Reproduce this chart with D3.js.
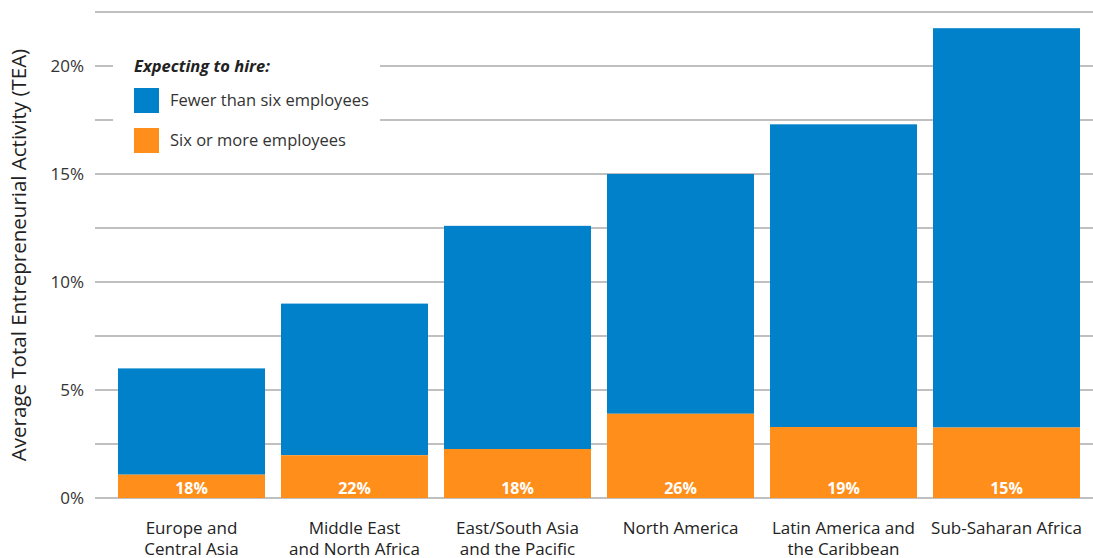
<!DOCTYPE html>
<html>
<head>
<meta charset="utf-8">
<script src="https://cdn.jsdelivr.net/npm/d3@7"></script>
<style>
  html, body { margin: 0; padding: 0; background: #fff; }
  svg { display: block; font-family: "Open Sans", "Noto Sans", sans-serif; }
</style>
</head>
<body>
<svg id="chart" width="1093" height="558"></svg>
<script>
// Regions and their average TEA (%)
const regions = [
  ["Europe and", "Central Asia"],
  ["Middle East", "and North Africa"],
  ["East/South Asia", "and the Pacific"],
  ["North America"],
  ["Latin America and", "the Caribbean"],
  ["Sub-Saharan Africa"]
];
const totalTEA = [6.0, 9.0, 12.6, 15.0, 17.3, 21.75];
// Share of entrepreneurs expecting to hire six or more employees (%)
const shareSixPlus = [18, 22, 18, 26, 19, 15];
const yTicks = [0, 5, 10, 15, 20];
const gridValues = [0, 2.5, 5, 7.5, 10, 12.5, 15, 17.5, 20, 22.5];
const legendTitle = "Expecting to hire:";
const seriesNames = ["Fewer than six employees", "Six or more employees"];
const colors = ["#0081CA", "#FF8F1A"];

const svg = d3.select("#chart");
const plotLeft = 95, plotRight = 1093, plotTop = 12, plotBottom = 498;

const x = d3.scaleBand()
  .domain(d3.range(regions.length))
  .range([110, 1088])
  .paddingInner(0.0982)
  .paddingOuter(0.0491);

const y = d3.scaleLinear().domain([0, 22.5]).range([plotBottom, plotTop]);

// Gridlines
svg.append("g")
  .selectAll("line")
  .data(gridValues)
  .join("line")
  .attr("x1", plotLeft).attr("x2", plotRight)
  .attr("y1", d => y(d)).attr("y2", d => y(d))
  .attr("stroke", "#ababab").attr("stroke-width", 1.5);

// Y tick labels
const yAxis = d3.axisLeft(y).tickValues(yTicks).tickSize(0).tickPadding(0)
  .tickFormat(d => d + "%");
const ya = svg.append("g").attr("transform", `translate(${plotLeft - 11},0)`).call(yAxis);
ya.select(".domain").remove();
ya.selectAll("text").attr("font-size", 17).attr("fill", "#333")
  .attr("font-family", "'Open Sans', 'Noto Sans', sans-serif");

// Y axis title
svg.append("text")
  .attr("transform", `translate(26, 255) rotate(-90)`)
  .attr("text-anchor", "middle")
  .attr("font-size", 20.5).attr("fill", "#222")
  .text("Average Total Entrepreneurial Activity (TEA)");

// Legend background blanks out the gridlines behind it
svg.append("rect").attr("x", 113).attr("y", 40).attr("width", 267).attr("height", 122).attr("fill", "#fff");

// Stacked bars
const data = regions.map((r, i) => {
  const six = totalTEA[i] * shareSixPlus[i] / 100;
  return { i, six, total: totalTEA[i], share: shareSixPlus[i] };
});

const g = svg.append("g");
g.selectAll("rect.fewer").data(data).join("rect")
  .attr("class", "fewer")
  .attr("x", d => x(d.i)).attr("width", x.bandwidth())
  .attr("y", d => y(d.total)).attr("height", d => y(d.six) - y(d.total))
  .attr("fill", colors[0]);
g.selectAll("rect.six").data(data).join("rect")
  .attr("class", "six")
  .attr("x", d => x(d.i)).attr("width", x.bandwidth())
  .attr("y", d => y(d.six)).attr("height", d => y(0) - y(d.six))
  .attr("fill", colors[1]);
g.selectAll("text.val").data(data).join("text")
  .attr("class", "val")
  .attr("x", d => x(d.i) + x.bandwidth() / 2).attr("y", 494)
  .attr("text-anchor", "middle")
  .attr("font-size", 16).attr("font-weight", "bold").attr("fill", "#fff")
  .text(d => d.share + "%");

// Category labels
const cat = svg.append("g").selectAll("text").data(regions).join("text")
  .attr("x", (d, i) => x(i) + x.bandwidth() / 2)
  .attr("y", 534)
  .attr("text-anchor", "middle")
  .attr("font-size", 17).attr("fill", "#222");
cat.selectAll("tspan").data(d => d).join("tspan")
  .attr("x", function () { return d3.select(this.parentNode).attr("x"); })
  .attr("dy", (d, j) => j === 0 ? 0 : 21)
  .text(d => d);

// Legend
const lg = svg.append("g");
lg.append("text").attr("x", 134).attr("y", 72)
  .attr("font-size", 16.5).attr("font-weight", "bold").attr("font-style", "italic").attr("fill", "#222")
  .text(legendTitle);
seriesNames.forEach((name, k) => {
  lg.append("rect").attr("x", 134).attr("y", 88 + k * 40).attr("width", 25).attr("height", 25).attr("fill", colors[k]);
  lg.append("text").attr("x", 170).attr("y", 106 + k * 40)
    .attr("font-size", 16.5).attr("fill", "#333").text(name);
});
</script>
</body>
</html>
